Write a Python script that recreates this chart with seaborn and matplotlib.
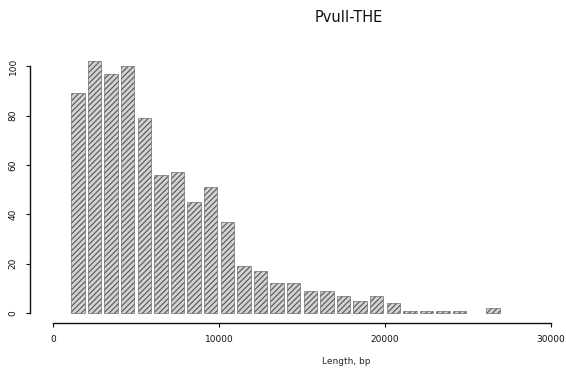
import numpy as np
import pandas as pd
import matplotlib
matplotlib.use("Agg")
import matplotlib.pyplot as plt
import seaborn as sns

# Fragment length histogram, 1 kb bins starting at 1000 bp
bin_starts = [1000, 2000, 3000, 4000, 5000, 6000, 7000, 8000, 9000, 10000,
              11000, 12000, 13000, 14000, 15000, 16000, 17000, 18000, 19000,
              20000, 21000, 22000, 23000, 24000, 25000, 26000]
counts = [89, 102, 97, 100, 79, 56, 57, 45, 51, 37,
          19, 17, 12, 12, 9, 9, 7, 5, 7,
          4, 1, 1, 1, 1, 0, 2]
bin_width = 1000
x_ticks = [0, 10000, 20000, 30000]
y_ticks = [0, 20, 40, 60, 80, 100]

df = pd.DataFrame({"length": np.array(bin_starts, dtype=float) + bin_width / 2,
                   "count": np.array(counts, dtype=float)})

sns.set_style("white")
plt.rcParams["font.family"] = ["DejaVu Sans"]
plt.rcParams["hatch.linewidth"] = 0.8
plt.rcParams["hatch.color"] = "#3c3c3c"

fig = plt.figure(figsize=(5.66, 3.69), dpi=100)
ax = fig.add_axes([30 / 566, 46 / 369, 522 / 566, 269 / 369])

sns.histplot(data=df, x="length", weights="count", binwidth=bin_width,
             binrange=(bin_starts[0], bin_starts[-1] + bin_width), shrink=0.8,
             color="#d2d2d2", alpha=1.0, edgecolor="#555555", linewidth=0.4,
             ax=ax)
for patch in ax.patches:
    patch.set_hatch("//////")
    if patch.get_height() == 0:
        patch.set_visible(False)

ax.set_xlim(-1386, 30060)
ax.set_ylim(-4.05, 105)

# Detached range-frame axes
for side in ("top", "right"):
    ax.spines[side].set_visible(False)
ax.spines["left"].set_bounds(0, 100)
ax.spines["bottom"].set_bounds(0, 30000)
for side in ("left", "bottom"):
    ax.spines[side].set_linewidth(1.0)
    ax.spines[side].set_color("#111111")

ax.set_xticks(x_ticks)
ax.set_xticklabels([str(v) for v in x_ticks])
ax.set_yticks(y_ticks)
ax.set_yticklabels([str(v) for v in y_ticks], rotation=90, va="center")
ax.tick_params(axis="both", direction="out", length=3, width=0.8,
               colors="#111111", labelsize=6.5, pad=6, left=True, bottom=True)

ax.set_xlabel("Length, bp", fontsize=6.5, va="center")
ax.xaxis.set_label_coords(0.605, -0.144)
ax.set_ylabel("")
fig.text(349 / 566, 1 - 17 / 369, "PvuII-THE", ha="center", va="center",
         fontsize=10.5, color="#111111")

fig.savefig("out.png", dpi=100)
